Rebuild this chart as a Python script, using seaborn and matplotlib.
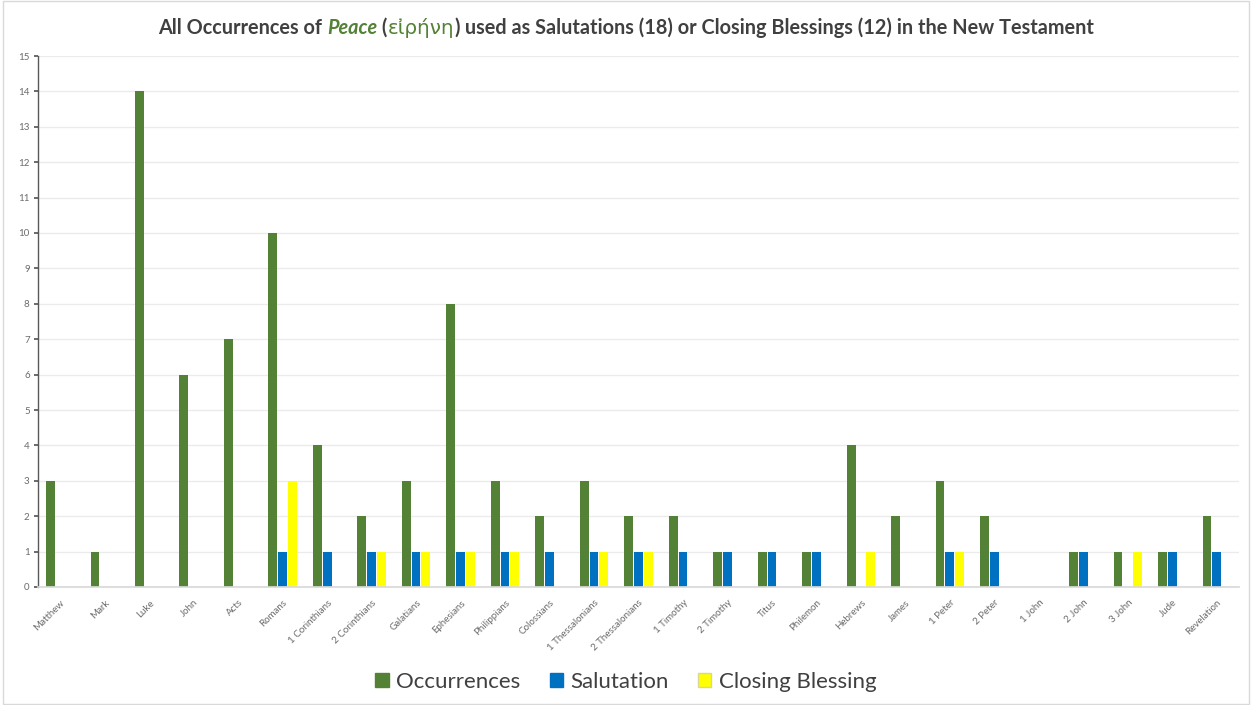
import matplotlib
matplotlib.use("Agg")
import matplotlib.pyplot as plt
import seaborn as sns
import pandas as pd
from matplotlib.patches import Rectangle

books = ["Matthew", "Mark", "Luke", "John", "Acts", "Romans", "1 Corinthians",
         "2 Corinthians", "Galatians", "Ephesians", "Philippians", "Colossians",
         "1 Thessalonians", "2 Thessalonians", "1 Timothy", "2 Timothy", "Titus",
         "Philemon", "Hebrews", "James", "1 Peter", "2 Peter", "1 John", "2 John",
         "3 John", "Jude", "Revelation"]
occurrences = [3, 1, 14, 6, 7, 10, 4, 2, 3, 8, 3, 2, 3, 2, 2, 1, 1, 1, 4, 2, 3, 2, 0, 1, 1, 1, 2]
salutation = [0, 0, 0, 0, 0, 1, 1, 1, 1, 1, 1, 1, 1, 1, 1, 1, 1, 1, 0, 0, 1, 1, 0, 1, 0, 1, 1]
closing = [0, 0, 0, 0, 0, 3, 0, 1, 1, 1, 1, 0, 1, 1, 0, 0, 0, 0, 1, 0, 1, 0, 0, 0, 1, 0, 0]
series = ["Occurrences", "Salutation", "Closing Blessing"]
colors = ["#538135", "#0070C0", "#FFFF00"]

rows = []
for name, vals in zip(series, [occurrences, salutation, closing]):
    for b, v in zip(books, vals):
        rows.append({"Book": b, "Series": name, "Value": v})
df = pd.DataFrame(rows)

sns.set_theme(style="white")
plt.rcParams["font.family"] = ["Lato", "DejaVu Sans"]

W, H = 1252, 705
fig = plt.figure(figsize=(W / 100, H / 100), dpi=100)
ax = fig.add_axes([38 / W, 1 - 587 / H, 1201 / W, 531 / H])

sns.barplot(data=df, x="Book", y="Value", hue="Series", hue_order=series,
            order=books, palette=colors, width=0.66, gap=0.1, ax=ax, legend=False,
            saturation=1, linewidth=0)

ax.set_ylim(0, 15)
ax.set_yticks(range(0, 16))
ax.set_xlim(-0.5, len(books) - 0.5)
ax.yaxis.grid(True, color="#ebebeb", linewidth=1)
ax.set_axisbelow(True)
ax.set_xlabel("")
ax.set_ylabel("")
for s in ["top", "right"]:
    ax.spines[s].set_visible(False)
ax.spines["left"].set_color("#595959")
ax.spines["left"].set_linewidth(1)
ax.spines["bottom"].set_color("#d9d9d9")
ax.tick_params(axis="y", left=True, length=3, color="#595959", labelsize=7, labelcolor="#6b6b6b", pad=3)
ax.tick_params(axis="x", bottom=False, labelsize=7, labelcolor="#6b6b6b", pad=2)
plt.setp(ax.get_xticklabels(), rotation=45, ha="right", rotation_mode="anchor")

# Title composed of pieces
fig.canvas.draw()
renderer = fig.canvas.get_renderer()
pieces = [
    ("All Occurrences of ", dict(color="#404040", fontweight="bold")),
    ("Peace", dict(color="#538135", fontweight="bold", fontstyle="italic")),
    (" (", dict(color="#404040", fontweight="bold")),
    ("εἰρήνη", dict(color="#538135", family=["DejaVu Sans"])),
    (")", dict(color="#404040", fontweight="bold")),
    (" used as Salutations (18) or Closing Blessings (12) in the New Testament",
     dict(color="#404040", fontweight="bold")),
]
texts = []
for t, kw in pieces:
    txt = fig.text(0, 1 - 28 / H, t, fontsize=14.3, va="center", ha="left", **kw)
    bb = txt.get_window_extent(renderer)
    texts.append((txt, bb.width))
total = sum(w for _, w in texts)
x = (fig.bbox.width - total) / 2
for txt, w in texts:
    txt.set_x(x / fig.bbox.width)
    x += w

# Legend
handles = [Rectangle((0, 0), 1, 1, facecolor=c, edgecolor=("#d8d890" if i == 2 else c))
           for i, c in enumerate(colors)]
fig.legend(handles, series, loc="center", bbox_to_anchor=(0.5, 1 - 682 / H),
           ncol=3, frameon=False, fontsize=16, handlelength=0.6, handleheight=0.6,
           handletextpad=0.35, columnspacing=1.3, labelcolor="#404040")

# Outer border
fig.patches.append(Rectangle((0.002, 0.002), 0.996, 0.996, transform=fig.transFigure,
                             fill=False, edgecolor="#d9d9d9", linewidth=1))

fig.savefig("out.png", dpi=100, facecolor="white")
